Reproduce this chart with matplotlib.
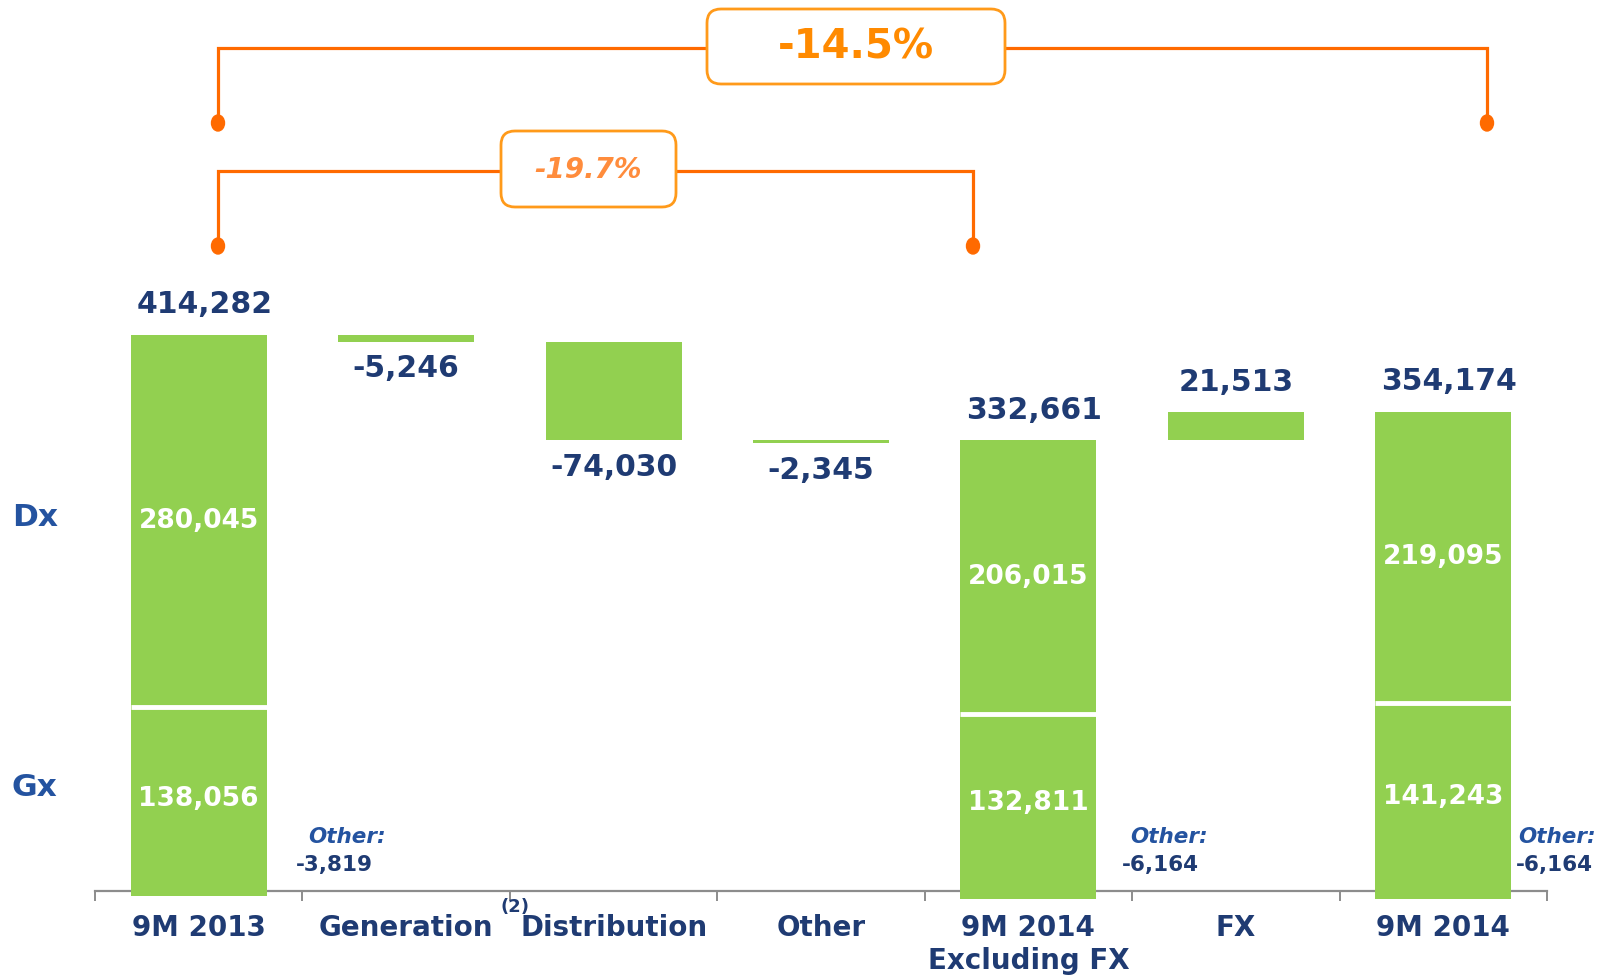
import numpy as np
import matplotlib
matplotlib.use("Agg")
import matplotlib.pyplot as plt
from matplotlib.patches import FancyBboxPatch, Ellipse

# data
categories = ['9M 2013', 'Generation', 'Distribution', 'Other',
              '9M 2014\nExcluding FX', 'FX', '9M 2014']
is_total = [True, False, False, False, True, False, True]
gx = [138056, 132811, 141243]          # Gx part of each total bar
dx = [280045, 206015, 219095]          # Dx part of each total bar
other = [-3819, -6164, -6164]          # "Other" inside each total
net_totals = [414282, 332661, 354174]  # labelled totals
deltas = [-5246, -74030, -2345, 21513]  # Generation, Distribution, Other, FX

GREEN = '#92D050'
NAVY = '#1F3B73'
BLUE = '#2453A0'
ORANGE_LINE = '#FF6A00'
ORANGE_BOX = '#FF9A1A'

W, H = 1606, 977
ZERO_PX = 891          # pixel row of the value 0
PX_PER_UNIT = 0.001330

fig = plt.figure(figsize=(W / 100, H / 100), dpi=100)
ax = fig.add_axes([95 / W, 0, 1452 / W, 1])
ax.set_xlim(-0.5, 6.5)
ax.set_ylim(-(H - ZERO_PX) / PX_PER_UNIT, ZERO_PX / PX_PER_UNIT)

for s in ['top', 'left', 'right']:
    ax.spines[s].set_visible(False)
ax.spines['bottom'].set_position(('data', 0))
ax.spines['bottom'].set_color('#8C8C8C')
ax.spines['bottom'].set_linewidth(1.6)
ax.set_yticks([])
ax.set_xticks(np.arange(-0.5, 7, 1))
ax.tick_params(axis='x', length=7, width=1.4, color='#8C8C8C', direction='out', labelbottom=False)

bw = 0.656
t = 0
d = 0
level = 0
lab_kw = dict(textcoords='offset pixels', ha='center', va='center',
              fontsize=21.5, fontweight='bold', color=NAVY)
for i, cat in enumerate(categories):
    if is_total[i]:
        g, dd, o = gx[t], dx[t], other[t]
        ax.bar(i, g, bw, color=GREEN, zorder=3)
        ax.bar(i, dd, bw, bottom=g, color=GREEN, zorder=3)
        ax.bar(i, o, bw, color=GREEN, zorder=3)
        ax.hlines(g, i - bw / 2, i + bw / 2, color='white', lw=3.5, zorder=4)
        ax.text(i, g / 2, f'{g:,}', ha='center', va='center', fontsize=19,
                fontweight='bold', color='white', zorder=5)
        ax.text(i, g + dd / 2, f'{dd:,}', ha='center', va='center', fontsize=19,
                fontweight='bold', color='white', zorder=5)
        level = g + dd
        ax.annotate(f'{net_totals[t]:,}', (i, level), xytext=(6, 30), **lab_kw)
        t += 1
    else:
        v = deltas[d]
        ax.bar(i, v, bw, bottom=level, color=GREEN, zorder=3)
        if v < 0:
            ax.annotate(f'{v:,}', (i, level + v), xytext=(0, -27), **lab_kw)
        else:
            ax.annotate(f'{v:,}', (i, level + v), xytext=(0, 29), **lab_kw)
        level += v
        d += 1
    lines = cat.count('\n') + 1
    ax.annotate(cat, (i, 0), xytext=(0, -37 - 16.5 * (lines - 1)),
                textcoords='offset pixels', ha='center', va='center',
                fontsize=20, fontweight='bold', color=NAVY, linespacing=1.2)

ax.annotate('(2)', (1.525, 0), xytext=(0, -16), textcoords='offset pixels',
            ha='center', va='center', fontsize=13, fontweight='bold', color=NAVY)

# "Other:" notes next to the total bars
other_pos = [(0.527, 0.469), (4.49, 4.45), (6.36, 6.35)]
for (xo, xv), o in zip(other_pos, other):
    ax.annotate('Other:', (xo, 0), xytext=(0, 54), textcoords='offset pixels',
                ha='left', va='center', fontsize=15.5, fontweight='bold',
                style='italic', color=BLUE)
    ax.annotate(f'{o:,}', (xv, 0), xytext=(0, 26), textcoords='offset pixels',
                ha='left', va='center', fontsize=15.5, fontweight='bold', color=NAVY)

# overlay in pixel units for the brackets and side labels
ov = fig.add_axes([0, 0, 1, 1])
ov.set_xlim(0, W)
ov.set_ylim(H, 0)
ov.axis('off')

ov.text(12, 517, 'Dx', ha='left', va='center', fontsize=22.5, fontweight='bold', color=BLUE)
ov.text(12, 788, 'Gx', ha='left', va='center', fontsize=22.5, fontweight='bold', color=BLUE)

pct_total = (net_totals[2] / net_totals[0] - 1) * 100
pct_exfx = (net_totals[1] / net_totals[0] - 1) * 100


def bracket(x0, x1, y_line, y_dot, box, text, tcolor, **tkw):
    ov.plot([x0, x0, x1, x1], [y_dot, y_line, y_line, y_dot], color=ORANGE_LINE,
            lw=2.3, solid_joinstyle='miter', zorder=2)
    for xx in (x0, x1):
        ov.add_patch(Ellipse((xx, y_dot), 13, 16, color=ORANGE_LINE, zorder=3))
    bx, by, bw_, bh = box
    ov.add_patch(FancyBboxPatch((bx, by), bw_, bh,
                                boxstyle='round,pad=0,rounding_size=14',
                                fc='white', ec=ORANGE_BOX, lw=2, zorder=4))
    ov.text(bx + bw_ / 2, by + bh / 2 + 1, text, ha='center', va='center',
            color=tcolor, fontweight='bold', zorder=5, **tkw)


bracket(218, 1487, 48, 123, (707, 9, 298, 75), f'{pct_total:.1f}%', '#FF8A00', fontsize=29)
bracket(218, 973, 171, 246, (501, 131, 175, 76), f'{pct_exfx:.1f}%', '#FF8C3C',
        fontsize=20, style='italic')

fig.savefig('out.png', dpi=100)
